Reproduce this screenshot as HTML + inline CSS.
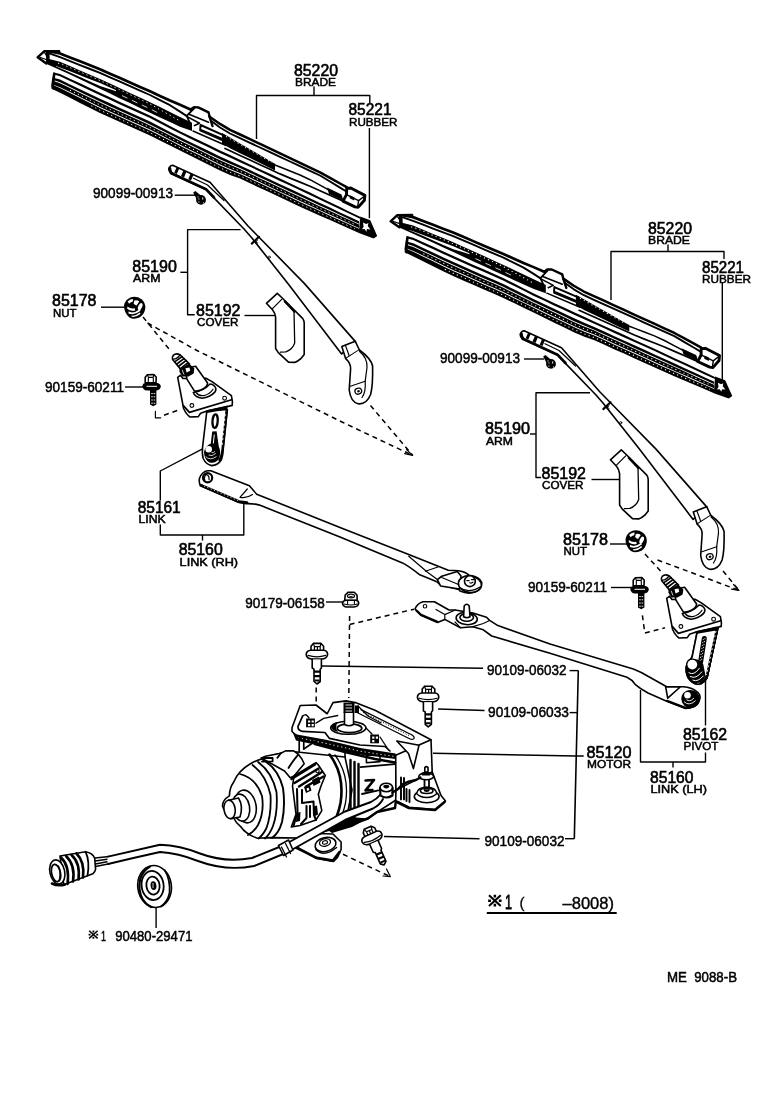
<!DOCTYPE html>
<html>
<head>
<meta charset="utf-8">
<title>Windshield Wiper Parts Diagram</title>
<style>
html,body{margin:0;padding:0;background:#fff;}
body{width:768px;height:1102px;overflow:hidden;font-family:"Liberation Sans",sans-serif;}
svg{display:block;position:absolute;left:0;top:0;filter:grayscale(1);}
text{font-family:"Liberation Sans",sans-serif;fill:#000;}
.n{font-size:16px;stroke:#000;stroke-width:.6px;}
.p{font-size:14.6px;stroke:#000;stroke-width:.5px;}
.s{font-size:11px;stroke:#000;stroke-width:.5px;}
.l{fill:none;stroke:#000;stroke-width:1.4;stroke-linecap:butt;stroke-linejoin:round;}
.d{fill:none;stroke:#000;stroke-width:1.5;stroke-dasharray:5 4;}
.o{fill:none;stroke:#000;stroke-width:1.6;stroke-linecap:round;stroke-linejoin:round;}
.w{fill:#fff;stroke:#000;stroke-width:1.6;stroke-linecap:round;stroke-linejoin:round;}
.k{fill:#000;stroke:#000;stroke-width:1;stroke-linejoin:round;}
.k0{fill:#000;stroke:none;}
.f{fill:none;stroke:#000;stroke-linecap:round;stroke-linejoin:round;}
.wd{fill:none;stroke:#fff;stroke-width:1;stroke-dasharray:1.2 3.2;}
</style>
</head>
<body>
<svg width="768" height="1102" viewBox="0 0 768 1102">
<rect x="0" y="0" width="768" height="1102" fill="#fff"/>

<!-- ===== TEXT LABELS ===== -->
<g id="labels" opacity="0.999">
<text class="n" x="294" y="75.5" textLength="44" lengthAdjust="spacingAndGlyphs">85220</text>
<text class="s" x="295" y="86" textLength="41" lengthAdjust="spacingAndGlyphs">BRADE</text>
<text class="n" x="348.5" y="115" textLength="43" lengthAdjust="spacingAndGlyphs">85221</text>
<text class="s" x="349" y="126" textLength="48.5" lengthAdjust="spacingAndGlyphs">RUBBER</text>

<text class="n" x="648" y="233.7" textLength="44" lengthAdjust="spacingAndGlyphs">85220</text>
<text class="s" x="648" y="244" textLength="42" lengthAdjust="spacingAndGlyphs">BRADE</text>
<text class="n" x="702" y="272.5" textLength="42" lengthAdjust="spacingAndGlyphs">85221</text>
<text class="s" x="702" y="282.7" textLength="49" lengthAdjust="spacingAndGlyphs">RUBBER</text>

<text class="p" x="93" y="198.3" textLength="80" lengthAdjust="spacingAndGlyphs">90099-00913</text>
<text class="n" x="132.3" y="271.8" textLength="44.5" lengthAdjust="spacingAndGlyphs">85190</text>
<text class="s" x="133" y="282" textLength="27.5" lengthAdjust="spacingAndGlyphs">ARM</text>
<text class="n" x="52" y="305.7" textLength="44.4" lengthAdjust="spacingAndGlyphs">85178</text>
<text class="s" x="53" y="316.6" textLength="23.5" lengthAdjust="spacingAndGlyphs">NUT</text>
<text class="n" x="196" y="315.7" textLength="44.5" lengthAdjust="spacingAndGlyphs">85192</text>
<text class="s" x="197" y="325.8" textLength="41.3" lengthAdjust="spacingAndGlyphs">COVER</text>
<text class="p" x="45" y="392.3" textLength="79" lengthAdjust="spacingAndGlyphs">90159-60211</text>
<text class="n" x="137.7" y="512.8" textLength="43" lengthAdjust="spacingAndGlyphs">85161</text>
<text class="s" x="138.5" y="523.2" textLength="27.3" lengthAdjust="spacingAndGlyphs">LINK</text>
<text class="n" x="178.7" y="554.7" textLength="44" lengthAdjust="spacingAndGlyphs">85160</text>
<text class="s" x="179.6" y="565.6" textLength="58.5" lengthAdjust="spacingAndGlyphs">LINK (RH)</text>

<text class="p" x="440" y="362.5" textLength="80" lengthAdjust="spacingAndGlyphs">90099-00913</text>
<text class="n" x="485" y="434" textLength="45" lengthAdjust="spacingAndGlyphs">85190</text>
<text class="s" x="486" y="445" textLength="27" lengthAdjust="spacingAndGlyphs">ARM</text>
<text class="n" x="541.5" y="479" textLength="44.5" lengthAdjust="spacingAndGlyphs">85192</text>
<text class="s" x="542" y="489" textLength="41.5" lengthAdjust="spacingAndGlyphs">COVER</text>
<text class="n" x="563" y="544.5" textLength="45" lengthAdjust="spacingAndGlyphs">85178</text>
<text class="s" x="563.5" y="555.3" textLength="23.5" lengthAdjust="spacingAndGlyphs">NUT</text>
<text class="p" x="528" y="591.8" textLength="79" lengthAdjust="spacingAndGlyphs">90159-60211</text>

<text class="p" x="245.2" y="607.6" textLength="79.7" lengthAdjust="spacingAndGlyphs">90179-06158</text>
<text class="p" x="487" y="675" textLength="79.5" lengthAdjust="spacingAndGlyphs">90109-06032</text>
<text class="p" x="488" y="717" textLength="81" lengthAdjust="spacingAndGlyphs">90109-06033</text>
<text class="p" x="484.5" y="845.5" textLength="80" lengthAdjust="spacingAndGlyphs">90109-06032</text>

<text class="n" x="683" y="739.5" textLength="44" lengthAdjust="spacingAndGlyphs">85162</text>
<text class="s" x="683.5" y="750" textLength="35" lengthAdjust="spacingAndGlyphs">PIVOT</text>
<text class="n" x="650" y="782.5" textLength="43.5" lengthAdjust="spacingAndGlyphs">85160</text>
<text class="s" x="650.5" y="793" textLength="56.5" lengthAdjust="spacingAndGlyphs">LINK (LH)</text>
<text class="n" x="586.5" y="757.5" textLength="45" lengthAdjust="spacingAndGlyphs">85120</text>
<text class="s" x="587" y="767.7" textLength="44" lengthAdjust="spacingAndGlyphs">MOTOR</text>

<text class="p" x="667" y="982" textLength="70" lengthAdjust="spacingAndGlyphs" xml:space="preserve">ME  9088-B</text>
<text class="p" x="115.200" y="940.500" textLength="77.300" lengthAdjust="spacingAndGlyphs">90480-29471</text>
<text class="p" x="101" y="940.500" textLength="5" lengthAdjust="spacingAndGlyphs">1</text>
<g id="kome" fill="none" stroke="#000" stroke-width="1.500"><path d="M89.200 930.800L97.600 938.400M97.600 930.800L89.200 938.400"/><path d="M93.400 930.400v2M93.400 936.800v2M88.600 934.600h2M96.200 934.600h2" stroke-width="1.800"/></g>
<use href="#kome" transform="translate(364.100,-407.800) scale(1.400)"/>
<text x="505" y="909.400" font-size="21" textLength="7" lengthAdjust="spacingAndGlyphs" style="stroke:#000;stroke-width:.8px">1</text>
<text x="519.500" y="908" font-size="15" style="stroke:#000;stroke-width:.3px">(</text>
<text x="562.500" y="908.800" font-size="17" textLength="51.500" lengthAdjust="spacingAndGlyphs" style="stroke:#000;stroke-width:.4px">–8008)</text>
</g>

<!-- ===== LEADER LINES ===== -->
<g id="leaders" class="l">
<!-- blade 1 bracket -->
<path d="M256.500 139V95.500H369.800V103"/><path d="M314 86.5V95.5"/><path d="M369.400 128V218.300"/>
<!-- blade 2 bracket -->
<path d="M611 300V251.5H724V259"/><path d="M668 244.5V251.5"/><path d="M722.3 283V380"/>
<!-- screw 1 -->
<path d="M174.7 195.2H195"/>
<!-- arm1 bracket -->
<path d="M240.6 229.6H187.6V314.7H194.7"/><path d="M180.4 272.3H187.6"/>
<!-- nut1 -->
<path d="M101 307.2H125"/>
<!-- cover1 -->
<path d="M244.5 315.5H275"/>
<!-- bolt1 -->
<path d="M125 387H143"/>
<!-- link 85161 / 85160 RH -->
<path d="M203 448.6L160.3 471V500.5"/><path d="M160.3 524.5V535H243.8V502.5"/><path d="M202.5 535V540.5"/>
<!-- screw 2 -->
<path d="M524 359H544"/>
<!-- arm2 bracket -->
<path d="M590 392.7H536V477.5H541"/><path d="M530 434H536"/>
<!-- cover2 -->
<path d="M591.5 479.5H622"/>
<!-- nut2 -->
<path d="M610 544H627"/>
<!-- bolt2 -->
<path d="M611 587.5H631"/>
<!-- nut 90179 -->
<path d="M326 602H343.5"/>
<!-- 90109-06032 top -->
<path d="M322 666L483 668.3"/><path d="M569.6 670.6H578.3"/>
<!-- 90109-06033 -->
<path d="M438 709L484.5 710.5"/><path d="M569.6 712.6H577.5"/>
<!-- motor -->
<path d="M433 753.3L576 756H583.7"/>
<!-- 90109-06032 bottom -->
<path d="M384 836.5L479.5 838.7"/><path d="M565 838.7H574.3"/>
<!-- pivot / link LH -->
<path d="M705.5 680V725.5"/><path d="M705.5 752.5V762H640.5V690"/><path d="M673 762V767.5"/>
<!-- grommet -->
<path d="M156.100 907.500V928"/>
<path d="M486.800 913H616.700" stroke-width="2.200"/>
</g>
<path d="M578.3 670.6L574.3 838.7" fill="none" stroke="#000" stroke-width="1.6"/>

<!-- ===== PARTS ===== -->
<defs>
<g id="blade">
<!--BLADE-->
<path class="k0" d="M54.0 72.5L60.0 74.0L70.0 78.7L80.0 83.3L90.0 88.0L100.0 92.7L110.0 97.3L120.0 101.9L130.0 106.4L140.0 111.0L150.0 115.6L160.0 120.8L170.0 126.0L180.0 131.2L190.0 136.0L200.0 140.8L210.0 145.6L220.0 150.4L230.0 155.1L240.0 159.8L250.0 164.5L260.0 169.2L270.0 173.8L280.0 178.5L290.0 183.2L300.0 187.9L310.0 192.6L320.0 197.5L330.0 202.3L340.0 207.1L350.0 212.0L360.0 216.8L360.0 218.8L350.0 214.1L340.0 209.3L330.0 204.5L320.0 199.7L310.0 194.9L300.0 190.2L290.0 185.5L280.0 180.9L270.0 176.2L260.0 171.5L250.0 166.8L240.0 162.2L230.0 157.6L220.0 152.9L210.0 148.1L200.0 143.3L190.0 138.4L180.0 133.6L170.0 128.4L160.0 123.3L150.0 118.1L140.0 113.5L130.0 108.9L120.0 104.4L110.0 99.8L100.0 95.2L90.0 90.5L80.0 85.8L70.0 81.1L60.0 76.3L54.0 74.6Z"/>
<path class="k0" d="M52.5 77.4L60.0 79.6L70.0 84.4L80.0 89.2L90.0 94.0L100.0 98.8L110.0 103.3L120.0 107.9L130.0 112.5L140.0 117.0L150.0 121.6L160.0 126.7L170.0 131.9L180.0 137.0L190.0 141.9L200.0 146.7L210.0 151.6L220.0 156.5L230.0 161.1L240.0 165.4L250.0 170.1L260.0 174.8L270.0 179.5L280.0 184.2L290.0 188.8L300.0 193.5L310.0 198.2L320.0 202.9L330.0 207.6L340.0 212.4L350.0 217.1L359.0 221.3L359.0 223.7L350.0 219.5L340.0 214.8L330.0 210.1L320.0 205.5L310.0 200.8L300.0 196.1L290.0 191.5L280.0 186.8L270.0 182.1L260.0 177.4L250.0 172.8L240.0 168.1L230.0 163.8L220.0 159.3L210.0 154.4L200.0 149.5L190.0 144.6L180.0 139.7L170.0 134.6L160.0 129.5L150.0 124.4L140.0 119.8L130.0 115.3L120.0 110.7L110.0 106.2L100.0 101.6L90.0 96.8L80.0 92.0L70.0 87.1L60.0 82.3L52.5 79.8Z"/>
<path class="k0" d="M52.0 80.6L60.0 83.2L70.0 88.1L80.0 92.9L90.0 97.8L100.0 102.6L110.0 107.2L120.0 111.7L130.0 116.3L140.0 120.8L150.0 125.4L160.0 130.5L170.0 135.6L180.0 140.7L190.0 145.6L200.0 150.5L210.0 155.4L220.0 160.3L230.0 164.8L240.0 169.0L250.0 173.7L260.0 178.4L270.0 183.0L280.0 187.7L290.0 192.4L300.0 197.1L310.0 201.7L320.0 206.4L330.0 211.0L340.0 215.7L350.0 220.3L359.0 224.5L359.0 228.0L350.0 223.9L340.0 219.3L330.0 214.8L320.0 210.2L310.0 205.6L300.0 201.0L290.0 196.3L280.0 191.7L270.0 187.0L260.0 182.3L250.0 177.6L240.0 173.0L230.0 169.0L220.0 164.5L210.0 159.6L200.0 154.6L190.0 149.7L180.0 144.7L170.0 139.7L160.0 134.6L150.0 129.5L140.0 125.0L130.0 120.5L120.0 116.0L110.0 111.4L100.0 106.9L90.0 102.0L80.0 97.0L70.0 92.1L60.0 87.2L52.0 84.2Z"/>
<path class="k0" d="M52.8 85.0L60.0 88.1L70.0 93.1L80.0 98.0L90.0 103.0L100.0 107.9L110.0 112.4L120.0 117.0L130.0 121.5L140.0 126.0L150.0 130.5L160.0 135.6L170.0 140.6L180.0 145.7L190.0 150.7L200.0 155.6L210.0 160.6L220.0 165.5L230.0 170.0L240.0 173.9L250.0 178.6L260.0 183.3L270.0 187.9L280.0 192.6L290.0 197.3L300.0 202.0L310.0 206.6L320.0 211.1L330.0 215.7L340.0 220.2L350.0 224.7L359.0 228.8L359.0 233.0L350.0 229.0L340.0 224.6L330.0 220.1L320.0 215.7L310.0 211.2L300.0 206.7L290.0 202.0L280.0 197.3L270.0 192.6L260.0 188.0L250.0 183.3L240.0 178.6L230.0 174.9L220.0 170.6L210.0 165.6L200.0 160.6L190.0 155.6L180.0 150.5L170.0 145.5L160.0 140.5L150.0 135.5L140.0 131.0L130.0 126.5L120.0 122.0L110.0 117.5L100.0 113.0L90.0 108.0L80.0 102.9L70.0 97.8L60.0 92.8L52.8 89.2Z"/>
<path class="k0" d="M53.2 72.2L55.6 73L53.6 90L51.4 88.6L51.2 85Z"/>
<path class="wd" d="M70.0 90.2L80.0 95.1L90.0 100.0L100.0 104.9L110.0 109.4L120.0 113.9L130.0 118.5L140.0 123.0L150.0 127.5L160.0 132.6L170.0 137.7L180.0 142.8L190.0 147.7L200.0 152.7L210.0 157.6L220.0 162.5L230.0 167.0L240.0 171.1L250.0 175.8L260.0 180.4L270.0 185.1L280.0 189.8L290.0 194.5L300.0 199.1L310.0 203.8L320.0 208.4L330.0 213.0L340.0 217.6L350.0 222.2L355.0 224.5"/>
<path class="wd" d="M90.0 105.2L100.0 110.2L110.0 114.7L120.0 119.2L130.0 123.7L140.0 128.2L150.0 132.7L160.0 137.8L170.0 142.8L180.0 147.8L190.0 152.8L200.0 157.8L210.0 162.8L220.0 167.8L230.0 172.2L240.0 176.0L250.0 180.6L260.0 185.3L270.0 190.0L280.0 194.7L290.0 199.4L300.0 204.0L310.0 208.6L320.0 213.1L330.0 217.6L340.0 222.1L350.0 226.6L355.0 228.9" stroke-dashoffset="3"/>
<path class="k0" d="M360.2 216.4L370.3 220.2L377.2 236L373.7 238.4L358.8 233Z"/>
<path d="M363 222.5l3.2 1.6l2.2-1l-.6 3l2.6 3.4l-3.4-.4l-.6 2.6l-1.8-2.6l-2.6.2l1.6-2.6z" fill="#fff"/>
<path class="f" stroke-width="2.7" d="M50.0 51.4L60.0 53.4L70.0 57.4L80.0 61.3L90.0 65.3L100.0 69.3L110.0 73.7L120.0 78.1L130.0 82.5L140.0 86.9L150.0 91.3L160.0 95.9L170.0 100.5L180.0 104.8L190.0 109.2L191.0 109.6"/>
<path class="f" stroke-width="1.9" d="M50.0 53.6L60.0 57.2L70.0 61.1L80.0 65.1L90.0 69.0L100.0 72.9L110.0 77.3L120.0 81.7L130.0 86.2L140.0 90.6L150.0 95.0L160.0 100.1L170.0 105.2L180.0 111.6L186.5 115.9"/>
<path class="f" stroke-width="2.4" d="M59.2 51.2H44.4L37.6 57.3L46.3 63.4"/>
<path class="f" stroke-width="1.2" d="M40.5 57.5L46 59.5M44.5 52.5L46 55"/>
<path class="k0" d="M45.8 51H49.6V63H46.2Z"/>
<path class="k0" d="M49 50.4H59.6L60.6 53L50 52.6Z"/>
<path class="k0" d="M47.0 58.4L50.0 59.2L60.0 61.8L70.0 66.1L80.0 70.4L90.0 74.7L100.0 79.0L110.0 83.6L120.0 88.3L130.0 92.9L140.0 97.6L150.0 102.2L160.0 107.1L170.0 112.1L180.0 117.0L190.0 121.8L192.0 122.8L192.0 131.0L190.0 130.3L180.0 126.8L170.0 122.1L160.0 117.4L150.0 112.7L140.0 107.9L130.0 103.1L120.0 98.4L110.0 93.6L100.0 88.8L90.0 84.1L80.0 79.3L70.0 74.6L60.0 69.9L50.0 65.5L46.0 63.7Z"/>
<path d="M56.0 66.1L60.0 67.4L70.0 71.3L80.0 75.2L90.0 79.2L100.0 83.1L110.0 87.5L116.0 90.2L116.0 91.2L110.0 89.2L100.0 85.9L90.0 81.5L80.0 77.0L70.0 72.5L60.0 68.1L56.0 66.5Z" fill="#fff"/>
<path class="wd" d="M58.0 63.3L60.0 63.3L70.0 67.6L80.0 71.9L90.0 76.2L100.0 80.5L110.0 85.2L120.0 89.9L130.0 94.6L140.0 99.3L150.0 104.0L160.0 109.7L170.0 115.3L180.0 121.0"/>
<path d="M122.0 95.6L130.0 99.4L140.0 104.1L150.0 108.8L160.0 113.9" fill="none" stroke="#fff" stroke-width=".8" stroke-dasharray="6 5"/>
<path class="f" stroke-width="2.4" d="M190.5 109.5L194 107.2L198.2 107.4L208.6 112.4L209.8 117.5L212.5 126"/>
<path class="f" stroke-width="1.8" d="M194 108.5L186.7 115.8L190.4 124.2"/>
<path class="f" stroke-width="1.6" d="M189 114.2L208.5 122.2"/>
<path class="f" stroke-width="1.6" d="M186.7 116.4L199.5 123.3L194.5 125.6"/>
<path class="f" stroke-width="2" d="M200.6 125L224.9 135.8L222.3 139L200.2 129.6Z"/>
<path class="f" stroke-width="1.5" d="M193 131L226 145.5"/>
<path class="f" stroke-width="1.5" d="M200 130.6L222 140.2"/>
<path class="f" stroke-width="2.5" d="M209.5 116.6L210.0 116.9L220.0 123.9L230.0 129.8L240.0 134.5L250.0 139.2L260.0 143.9L270.0 148.7L280.0 153.4L290.0 158.1L300.0 162.8L310.0 167.6L320.0 172.3L330.0 177.9L340.0 183.5L346.7 187.2"/>
<path class="f" stroke-width="1.9" d="M211.3 121.0L220.0 127.5L230.0 133.5L240.0 138.2L250.0 142.9L260.0 147.5L270.0 152.2L280.0 156.8L290.0 161.5L300.0 166.2L310.0 170.8L320.0 175.5L330.0 181.5L340.0 187.6L346.0 191.2"/>
<path class="k0" d="M222.0 133.0L230.0 137.5L240.0 143.4L250.0 149.2L260.0 155.0L270.0 160.9L275.0 163.8L275.0 170.4L270.0 167.9L260.0 163.0L250.0 158.1L240.0 153.2L230.0 148.3L222.0 143.5Z"/>
<path class="wd" d="M226.0 136.4L272.0 162.8"/>
<path class="f" stroke-width="1.5" d="M275.0 165.0L280.0 167.0L290.0 171.0L300.0 175.0L310.0 179.7L320.0 185.2L330.0 190.6L340.0 195.7L341.5 196.5"/>
<path class="f" stroke-width="1.7" d="M225.0 148.5L230.0 150.8L240.0 155.4L250.0 160.0L260.0 164.7L270.0 169.3L280.0 173.9L290.0 178.1L300.0 182.1L310.0 186.2L320.0 190.7L330.0 195.2L340.0 199.7L343.0 201.0"/>
<path class="k0" d="M327 187.6L341.5 194.6L343.5 201L329 194Z"/>
<path class="f" stroke-width="2.9" d="M346.7 188.4L350.8 188L364.9 195.4L364.4 200.3L358.1 207.4L355 206.9L343 201.1L346.5 194.6Z"/>
<path class="f" stroke-width="1.4" d="M346.5 194.6L358.6 200.6L364.6 196"/><path class="f" stroke-width="1.4" d="M358.6 200.6L357.6 207"/>
<path class="k0" d="M350 195.2l4.5 2.2l-.3 3.2l-4.6-2.3z"/>
<!--/BLADE-->
</g>
<g id="arm">
<!--ARM-->
<!-- arm outline -->
<path class="w" stroke-width="1.8" d="M173.2 165.4L210 182.3L248 226L259.5 237.7L304.5 283.6L355.2 341.4L341.6 353.9L287.9 283.6L251.7 237.7L244.5 229.5L206 189.6L170.8 173.4Q167.4 169.6 169.6 167Q171 165 173.2 165.4Z"/>
<!-- thick lower edge of first segment -->
<path class="f" stroke-width="2.6" d="M171 173L206 189.2L214 197.5"/>
<path class="f" stroke-width="1.2" d="M193.5 178.2L207.5 185L224 200.5"/>
<!-- tip cross bars (dark) -->
<path class="k0" d="M176.6 167.2l2.6 1.2l-2.4 5.6l-2.6-1.2zM183.4 170.4l3 1.4l-2.4 5.6l-3-1.4zM190.6 173.6l2.8 1.3l-2.4 5.6l-2.8-1.3z"/>
<path class="f" stroke-width="2.4" d="M170 168.2Q170.4 172 172 173.4"/>
<!-- joint -->
<path class="f" stroke-width="2.16" d="M251.8 243.6L259 236.8"/>
<path class="f" stroke-width="1.0" d="M255.8 240.6v2.6m0-1.4l1.6-1.4m-1.6 1.4l1.8 1.2"/>
<circle cx="269.3" cy="257.2" r="1.1" class="f" stroke-width="0.8"/>
<!-- collar -->
<path class="w" stroke-width="2.2" d="M341.8 346.4L355.2 341.2L359.4 350L345.6 358.6Z"/>
<path class="f" stroke-width="1.2" d="M345.4 345.4L349.2 355.8"/>
<!-- hook -->
<path class="w" stroke-width="1.8" d="M346 358.8Q351 363.5 350.6 369L349.2 390Q350.6 401.6 358 403.8Q366.4 404.8 370.6 394.5Q373 386 372.6 366Q371 358.5 359.4 350"/>
<path class="f" stroke-width="1.2" d="M359.6 351.5Q367.6 358 367 367.5L365.2 381.2L350.4 386.2"/>
<path class="f" stroke-width="1.2" d="M365.2 381.2Q366 392 362 397.5"/>
<ellipse cx="358.3" cy="391.2" rx="3.4" ry="2.9" class="f" stroke-width="1.3" transform="rotate(-20 358.3 391.2)"/>
<ellipse cx="358.5" cy="391.3" rx="1.4" ry="1.1" class="k0" transform="rotate(-20 358.3 391.2)"/>

<!--/ARM-->
</g>
<!--SMALL1-->
<!-- NUT shape centred at (134.5,307.5) -->
<g id="nut">
<path class="k0" d="M124 305.500Q125 299.500 131 297.200Q137 296 141.500 299.200Q145.600 302.500 145.300 308.200Q144.600 314 140 317.200Q134 320 129.400 317.400Q124 313 124 305.500Z"/>
<path d="M127.600 301.600q2.600-3 5.600-2.400l-.6 2.600q-2.400.4-3.400 2z" fill="#fff"/>
<path d="M134.400 300.400q3-.6 4.800 1l-2.600 4.200q-1.800-.6-3-2.200z" fill="#fff"/>
<ellipse cx="140.200" cy="306.600" rx="1.900" ry="3.700" fill="#fff" transform="rotate(25 140.200 306.600)"/>
<path d="M127.400 306.400q3.400 3 7.400 1.800l.4 2.200q-4.400 1.400-8-1.600z" fill="#fff"/>
<path d="M128.600 311.600q5 2.400 11-2.400l1 1.600q-6 5-12.200 2.600z" fill="#fff"/>
<path d="M131.600 315.600q4 .6 8.200-3l.8 1.200q-4.400 3.800-9 3z" fill="#fff"/>
</g>
<!-- BOLT small: head top at (150.6,374.6) -->
<g id="sbolt">
<path class="w" stroke-width="1.92" d="M145.200 377.200L147.400 374.800L153.800 374.600L156.200 377L156 382.600L145.200 382.800Z"/>
<path class="f" stroke-width="1.1" d="M148.400 377.400L153.200 377.200L153.400 382.400M148.400 377.400L148.200 382.600M148.400 377.400L147.400 374.800M153.200 377.200L153.800 374.600"/>
<path class="k0" d="M142.400 386.400Q142.400 383.200 146 382.800H156.400Q160.600 383.400 160.800 386.400Q160.400 389.600 156.400 390.600H147Q142.800 389.800 142.400 386.400Z"/>
<path d="M146.500 386.300H157" stroke="#fff" stroke-width="1.0" fill="none"/>
<path class="k0" d="M150 390H156.400V404.400L153.200 406.200L150 404.400Z"/>
<path d="M151.200 393.600h4M151.200 396.800h4M151.200 400h4M151.200 403.200h4" stroke="#fff" stroke-width="0.9" stroke-dasharray="1.600 .8" fill="none"/>
</g>

<!--/SMALL1-->
<!--BOLTS-->
<g id="bigbolt">
<path class="w" stroke-width="2.04" d="M311 651.500L311 646.200L313.400 643.400L320.800 643.400L323.600 646.200L323.600 651.500Z"/>
<path class="f" stroke-width="1.2" d="M314.400 646.600L320.200 646.600L320.200 651.500M314.400 646.600L314.400 651.500M314.400 646.600L313.400 643.400M320.200 646.600L320.800 643.400M317.400 647V651"/>
<path class="w" stroke-width="2.04" d="M306.200 654.600Q306.200 650.600 311 650.200L323.600 650.200Q327.600 650.600 327.600 654.600Q327 658.200 322.600 659L311.400 659Q306.600 658.200 306.200 654.600Z"/>
<path class="f" stroke-width="1.2" d="M308 655.400Q316.800 658.200 325.800 655.400"/>
<path class="w" stroke-width="2.04" d="M312.200 659.400L312.200 668L314 669.200L314 681.500L317 684L320.200 681.500L320.200 669.200L321.400 668L321.400 659.400"/>
<path class="k0" d="M314 670.500h6.200v2.200h-6.200zM314 675h6.200v2.200h-6.200zM314.600 679.500h5v2h-5z"/>
</g>
<g id="hexnut">
<path class="w" stroke-width="2.04" d="M344.700 600.500L345.200 595L348.200 592.200L354.200 592.200L357 595L357.200 600.500Z"/>
<ellipse cx="351" cy="596" rx="3.600" ry="1.900" class="f" stroke-width="1.2"/>
<path class="f" stroke-width="1.0" d="M349.600 596.400q1.400 1 2.800 0"/>
<path class="w" stroke-width="2.04" d="M342.500 603.600Q342.600 600.600 346 600.200L356 600.200Q358.800 600.600 358.700 603.600Q358 606.600 354 607L347 607Q343 606.600 342.500 603.600Z"/>
<path class="f" stroke-width="1.1" d="M347.600 600.600V603.600M354.400 600.600V603.600M344 604Q351 606 357.400 604"/>
</g>

<!--/BOLTS-->
<g id="cover">
<!--COVER-->
<path class="w" stroke-width="2" d="M266.400 303.300L277.300 293.400L281.700 297.500L302.800 318.600Q304.200 320.600 304.200 323.300L304.200 354.600L300.800 358.700Q298 361.400 294.700 362.400L288.500 362.100L278.300 352.600L275.600 348.500L275.600 317.200Q275.200 313 272.500 309.700Z"/>
<path class="f" stroke-width="1.200" d="M272.500 308.600L281.700 299.300"/>
<path class="f" stroke-width="1.300" d="M284.400 301.200L294 311L294.700 343Q292.500 349.500 285.800 351.900L280.400 352.200"/>
<path class="f" stroke-width="2.400" d="M285 301.500L294.400 311.500"/>

<!--/COVER-->
</g>
</defs>
<g id="parts">
<!--CONN-->
<!-- connector -->
<g id="connector">
<path class="w" stroke-width="2" d="M60 856L85.600 851.800Q92.500 853 94.700 858.200L95.600 869.200Q95 872.500 92.900 873.700L63.700 884.700Z"/>
<path class="f" stroke-width="1.800" d="M85.600 851.800Q90 861 87.500 875.500"/>
<path class="f" stroke-width="1.500" d="M95 858L109.300 856.400M95.600 866.500L109.300 863.700M95.300 861L107 859.200M95.500 864L107 861.800"/>
<ellipse cx="57.300" cy="871.900" rx="7.400" ry="12.200" class="w" stroke-width="2.300" transform="rotate(-12 57.300 871.900)"/>
<path class="f" stroke-width="2.600" d="M61 857.500Q70 866 67.500 884M66 856Q75.500 865 73 881.500M71.500 855Q80.500 863 78.500 879.500M76.500 853.500Q85 862 83 877.500"/>
<ellipse cx="56" cy="873" rx="4.400" ry="8.800" class="f" stroke-width="1.800" transform="rotate(-12 56 873)"/>
<path class="f" stroke-width="1.300" d="M58.500 866Q61.500 873 59 881"/>
<path class="f" stroke-width="2.600" d="M52 883.500Q58 886.500 65 884.500"/>
</g>
<!-- grommet -->
<g id="grommet">
<ellipse cx="154.600" cy="886.500" rx="16.800" ry="21" class="w" stroke-width="2.28" transform="rotate(-8 154.600 886.500)"/>
<path class="f" stroke-width="2.16" d="M150 866.500Q138.500 873 139.500 889Q141 902 151 907"/>
<ellipse cx="152.600" cy="885.500" rx="11" ry="14.600" class="f" stroke-width="1.8" transform="rotate(-8 152.600 885.500)"/>
<ellipse cx="153" cy="885.600" rx="6.600" ry="9" class="f" stroke-width="1.8" transform="rotate(-8 153 885.600)"/>
<ellipse cx="153.500" cy="885.600" rx="2.900" ry="4.400" class="k0" transform="rotate(-8 153.500 885.600)"/>
<path d="M153 883v5" stroke="#fff" stroke-width="0.8" fill="none"/>
<path class="f" stroke-width="1.68" d="M165 870.500Q170.500 880 169.500 893Q167.500 902 161 906.500"/>
</g>

<!--/CONN-->
<g id="motor">
<!--MOTOR-->
<!-- ===== MOTOR 85120 ===== -->
<!-- cable from connector to motor -->
<!-- rear foot plate with rubber mount -->
<path class="w" stroke-width="2.04" d="M294.600 845.800L305 838L318 833.500L333 834L341.100 842L341.100 849.500L337.500 857.500L333.500 861.500L316.600 858.500Z"/>
<path class="f" stroke-width="2.6" d="M296 847.500L316.600 857.800L333 860.600L339.500 852"/>
<ellipse cx="325.500" cy="844.500" rx="10.600" ry="7" class="w" stroke-width="2.04" transform="rotate(-14 325.500 844.500)"/>
<path class="f" stroke-width="1.3" d="M315.800 849.500Q324 858 336.600 847.500"/>
<ellipse cx="325" cy="842.500" rx="5.600" ry="3.700" class="f" stroke-width="1.3" transform="rotate(-14 325 842.500)"/>
<ellipse cx="325" cy="842.400" rx="2.600" ry="1.700" class="f" stroke-width="1.1" transform="rotate(-14 325 842.400)"/>
<!-- main gear housing block (right body) -->
<path class="w" stroke-width="2.04" d="M345 752L396 756L396 800L368 818L345 826Z"/>
<!-- motor body cylinder -->
<path class="w" stroke-width="2.04" d="M262.400 758.800Q272 754.500 283 752.700L294.600 751.800L345 757L352 790L345 826L300 838L270.900 837.600L257.300 838.200Q246 834.500 240.400 826.300Q236 823 233 817Q224 812 222.500 806Q222.500 800 229.400 795.900Q229.500 788 233.600 782.300Q238 771 250 764Q256 760.500 262.400 758.800Z"/>
<!-- end rings -->
<path class="f" stroke-width="1.92" d="M262.400 759.500Q278 768 283 788Q285.500 806 282 822Q279 833 272 838"/>
<path class="f" stroke-width="1.8" d="M258 762Q272 772 276.500 792Q278 812 273 826Q270 834 265 838.500"/>
<path class="f" stroke-width="1.8" d="M252.500 765Q266 775 270.500 795Q271.500 814 266.500 828Q263 835 258.500 838.500"/>
<path class="f" stroke-width="1.8" d="M240 774Q256 778 262 796Q264.500 812 258 825Q254 832 248 835"/>
<ellipse cx="245.500" cy="806.500" rx="10.600" ry="16.500" class="w" stroke-width="1.92" transform="rotate(-10 245.500 806.500)"/>
<ellipse cx="241" cy="807.600" rx="8.600" ry="13.600" class="w" stroke-width="1.92" transform="rotate(-10 241 807.600)"/>
<path class="w" stroke-width="1.8" d="M228.500 800.200L238.500 798Q243.500 806 240 817L231 818.600Z"/>
<ellipse cx="229.600" cy="809.400" rx="5.600" ry="9.300" class="w" stroke-width="2.28" transform="rotate(-8 229.600 809.400)"/>
<!-- strap across body -->
<path class="w" stroke-width="2.16" d="M261.400 758L265.500 756.200L280.800 753.200L285.500 750.900L293.700 750.900L298.400 754.400L301.900 759L304.200 763.750L294 776L290.200 777.800L284.500 771Z"/>
<path class="f" stroke-width="1.8" d="M261.400 758L272.600 757.800L272.600 761.400L262 761.600M277.300 757.900L280.800 753.200"/>
<path class="f" stroke-width="1.8" d="M298.400 754.400Q292 762 288.500 768"/>
<!-- brush holder block -->
<path class="w" stroke-width="2.16" d="M292.500 786L294 776L316 762.600L318.300 765L325.300 775.500L321 786L318.300 794.200L321.800 810.700L316 820L300 825.500L291.300 827L296 814.200Z"/>
<path class="f" stroke-width="2.4" d="M291.500 779L315 764.500M294.500 783L318.500 768.500M299 786.500L322 772M306 786.500L323.500 776.500"/>
<path class="f" stroke-width="2.04" d="M297 789L297.500 812L293.500 826M302 790L302 803L313.500 801.500L314 815L316 820M306.500 806L306.500 818L301 824M310 806L310 817"/>
<path class="k0" d="M304 787l5.500-3l2 6.500l-5.500 2.500zM312 780l7-3.500l1.500 6l-7 3.500zM296.500 813l4-1l-.5 9l-4 1zM313 806.500l4-1l1 9l-4 2z"/>
<path d="M306.500 788.500l2-1l.8 2.500l-2 1z" fill="#fff"/>
<!-- flange ring between motor and gearbox -->
<path class="f" stroke-width="2.6" d="M329.500 754.500Q345 775 340.500 803Q338 816 331.500 827.500"/>
<path class="f" stroke-width="1.3" d="M335 755Q350 776 345.500 803Q343 815 337 826"/>
<path class="f" stroke-width="2.4" d="M350.500 760V821M354.500 762V818M358.500 764V812"/>
<circle cx="317.500" cy="771" r="1.700" class="f" stroke-width="1.1"/>
<!-- gearbox details -->
<path class="f" stroke-width="1.8" d="M360.500 767.200L394.900 764.200M362 794L378.400 790.400"/>
<path class="f" stroke-width="2.6" d="M365.500 780.500L374 780L365.500 790.400L372.400 790"/>
<path class="w" stroke-width="1.92" d="M366.400 755.200L366.400 762.700L380 761.600L380 755.200Z"/>
<path class="f" stroke-width="2.4" d="M396.400 756L396.400 800.500"/>
<path d="M396.400 760V798" stroke="#fff" stroke-width="0.7" stroke-dasharray="3 4" fill="none"/>
<ellipse cx="386.300" cy="787.500" rx="6.300" ry="4.200" class="w" stroke-width="2.04"/>
<ellipse cx="386.300" cy="786.600" rx="3" ry="1.800" class="k0"/>
<path class="f" stroke-width="2.16" d="M380 788L380.500 795.500Q386 799.500 392.500 795.500L392.600 788"/>
<!-- lower link/crank arm under gearbox -->
<path class="f" stroke-width="2.4" d="M345 826.500L368 818.500L377 812L395 808L396 800"/>
<path class="k0" d="M322 826Q334 815 350 817L368 818.500L352 827L332 833Z"/>
<path d="M330 827.500L340 822" stroke="#fff" stroke-width="1.3" fill="none"/>
<!-- cable -->
<path d="M108 856.600Q135 850.500 160 844.800Q180 845.500 200 853.500Q225 863 252 858L283 845.500L345 811.500L371 802L379.500 796L382 800L373 808L345 820L287 852.500L254 866Q226 871.500 198 861Q178 853 160 852.500Q135 857.500 108 864Z" fill="#fff"/>
<path class="f" stroke-width="1.92" d="M108 856.600Q135 850.500 160 844.800Q180 845.500 200 853.500Q225 863 252 858L283 845.500L345 811.500L371 802Q377 799 380 795"/>
<path class="f" stroke-width="1.92" d="M108 864Q135 857.500 160 852Q178 853 198 861Q226 871.500 254 866L287 852.500L345 820L373 808.500Q380 805 383 799"/>
<!-- cable clamp -->
<path class="w" stroke-width="2.16" d="M278.500 845.500L288.500 840L293 850L283.500 855.500Z"/>
<path class="f" stroke-width="1.300" d="M281.500 847L286.500 857M285.500 843.500L290.500 853.500"/>
<!-- top bracket plate -->
<path class="w" stroke-width="2.16" d="M300.200 705.500L316 705L327.200 713.750L333 702.600L346 700.900L355.300 702.600L375 710.200L431 739.800L432.200 771.900L396 800L395.700 755.300L360.250 749.800L324.800 741L296.700 736L292 731.500L292 727.800Z"/>
<!-- plate front (thickness, dark) -->
<path class="k0" d="M292.500 732L297 734.500L326 739.800L360.250 748L395.700 753.500L395.700 759L360 754.500L326 747L296 740.500Z"/>
<path class="f" stroke-width="2.600" d="M315 744L345 752L375 759L395 762.500"/>
<path d="M298 737.600L326 743.400L360 751.200L394 756.400" stroke="#fff" stroke-width="0.8" stroke-dasharray="1.400 2.600" fill="none"/>
<path class="f" stroke-width="1.68" d="M395.700 755.300L431 739.800"/>
<!-- right face triangle mark -->
<path class="w" stroke-width="1.8" d="M396.800 741L419 745.300L413.400 768.600L408.500 753.500Z"/>
<!-- slot on plate -->
<path class="f" stroke-width="1.3" d="M361 709.600L412 735Q415.500 737.500 413.500 739Q411.500 740 408 738L358 713"/>
<path d="M363 712.400L409 735.500" stroke="#000" stroke-width="0.9" stroke-dasharray="1.200 1.600" fill="none"/>
<!-- inner rib -->
<path class="f" stroke-width="1.68" d="M302.600 716.100L297.900 726.600Q298 731 302.600 731.300L324.900 732.500L329.500 738.400L360 745L385 746.500L390 751"/>
<path class="f" stroke-width="1.3" d="M302.600 716.100Q305 713.500 307.500 716L309 718M316 723.100L323.700 718.400L337.750 715.500M366 728L372 734M380 737L388.500 750"/>
<path class="f" stroke-width="1.3" d="M358 706L368 716L381 723"/>
<!-- square nuts -->
<path class="k0" d="M306.100 718.500h8.800v8.800h-8.800z"/><path d="M308 720.400h2.200v2.200h-2.200zM311.600 720.400h2.200v2.200h-2.200zM308 724h2.200v2.200h-2.200zM311.600 724h2.200v2.200h-2.200z" fill="#fff"/>
<path class="k0" d="M370.200 734.500h8.800v8.800h-8.800z"/><path d="M372.200 736.500h2.200v2.200h-2.200zM375.800 736.500h2.200v2.200h-2.200zM372.200 740h2.200v2.200h-2.200z" fill="#fff"/>
<!-- boss + stud -->
<ellipse cx="348.300" cy="727.800" rx="17.600" ry="6.500" class="w" stroke-width="2.04"/>
<path class="k0" d="M331 727Q332 723.500 337 722L336 728.500L338 732Q332.500 731 331 727Z"/>
<ellipse cx="349.500" cy="728.200" rx="12.300" ry="4.400" class="f" stroke-width="1.68"/>
<path class="w" stroke-width="1.92" d="M344.500 724.500L344.500 712L353.500 712L353.500 724.500Q349 727 344.500 724.500Z"/>
<path class="k0" d="M343.500 702.500h11v10.500h-11z"/><path d="M345.500 705h6.500M345.500 708h6.500M345.500 711h6.500" stroke="#fff" stroke-width="0.9" fill="none"/>
<path class="k0" d="M355 705.500h4v7.500h-4z"/>
<!-- legs -->
<path class="f" stroke-width="1.68" d="M299.200 737V751.500M303.750 738V749"/>
<path class="f" stroke-width="1.68" d="M303.750 749L315 741.500"/>
<!-- front right foot with mount -->
<path class="w" stroke-width="2.04" d="M395.700 800.700L409 807.300L435.500 809.500L445.500 801L441 795.500L432.200 771.900L396 790Z"/>
<path class="f" stroke-width="2.6" d="M397 802L409 808L435 810L444.500 802"/>
<ellipse cx="426.700" cy="796.500" rx="12.400" ry="6.200" class="w" stroke-width="2.04"/>
<path class="w" stroke-width="1.8" d="M416.600 793.500Q417.500 787.500 426.700 787Q436 787.500 436.800 793.500Q433 797.500 426.700 797.500Q420 797.500 416.600 793.500Z"/>
<ellipse cx="426.700" cy="790.800" rx="6.300" ry="2.700" class="w" stroke-width="1.68"/>
<ellipse cx="426.700" cy="790.600" rx="3" ry="1.300" class="k0"/>
<path class="f" stroke-width="1.8" d="M424.500 789V779M429 789V779"/>
<ellipse cx="426.200" cy="776.400" rx="7.400" ry="3.400" class="w" stroke-width="2.04"/>
<path class="k0" d="M421 773Q426 770.500 431 773L430 775.500H422Z"/>
<path class="w" stroke-width="1.3" d="M424.800 772L424.800 767.500Q426.400 765.800 428 767.500L428 772Z"/>
<!-- wire to foot -->
<path class="f" stroke-width="2.4" d="M392.600 792.500Q398 790 402.400 784.400Q408 781 415.900 780L420.400 777.500"/>
<path class="f" stroke-width="1.92" d="M401 777.500V799.400M404 778V799.400M406.500 789V801M409.500 790V802"/>

<!--/MOTOR-->
</g>
<!--MISC-->
<g id="screw">
<circle cx="201" cy="199.900" r="4.900" class="k0"/>
<path class="k0" d="M193.200 192.600L195.400 191L202 196.500L197.500 201Z"/>
<path d="M197.500 196.500h1v1h-1zM198.400 198.600h1v1h-1zM198.400 201.500h1v1h-1zM202.200 197.400h1v2h-1zM203 202.600h1v1h-1z" fill="#fff"/>
</g>
<use href="#screw" transform="translate(350,164)"/>
<!-- dashed guide lines -->
<g class="d" stroke-dasharray="6 5">
<path d="M143 317L169 349"/>
<path d="M147.500 323L197 350.500L343 422.500L412.700 455.400"/>
<path d="M370.500 405.500L412.700 455.400"/>
<path d="M645 554L661 571.500"/>
<path d="M657.500 560L739 590.300"/>
<path d="M723 571L739 590.300"/>
</g>
<path class="f" stroke-width="1.200" d="M406.500 449.600L412.700 455.400L404.600 453.600"/>
<path class="f" stroke-width="1.200" d="M733.500 584.500L739 590.300L731.500 589.200"/>
<path class="f" stroke-width="1.200" d="M155.400 411.400V417.800H160.700"/>
<path class="d" stroke-dasharray="4 3.500" d="M164 415.200L178 410.200"/>
<path class="d" stroke-dasharray="7 3.500" d="M642.400 615.300L644.800 633L665 627.800"/>
<!-- hexnut vertical -->
<path class="d" stroke-width="1.400" stroke-dasharray="8 3" d="M349.600 616L348.800 698"/>
<path class="d" stroke-dasharray="6 5" d="M349.600 624.500L414 609.200"/>
<path class="d" stroke-width="1.400" stroke-dasharray="7 3" d="M316.200 687.500V703"/>
<path class="d" stroke-dasharray="6 4.500" d="M343 854.300L389.500 876.300"/>
<path class="f" stroke-width="1.200" d="M386.500 869L390.400 876.700L383 876"/>

<!--/MISC-->
<use href="#hexnut"/>
<use href="#bigbolt"/>
<use href="#bigbolt" transform="translate(111.200,42.800)"/>
<use href="#bigbolt" transform="translate(54.900,183.600) rotate(-24 316.800 654)"/>
<!--LINKS-->
<!-- RH LINK 85160 -->
<g id="linkrh">
<path class="w" stroke-width="2.04" d="M210.800 470.800L249.400 485.800Q253 490 256.700 494.200L340 527.500L408.750 554.600L448.300 570.200L458.750 570.800Q466 572 469.200 575.400Q480 577 481.800 582.600Q481.800 589 475 592Q468 594.600 460 591L458.750 589.400L440 584.800L436.900 581.700L419.200 574.400Q410 567 402.500 562.900L340 536.900L260.800 505.600Q256 503.400 246.250 503.600L239 502.500L200.400 485.800Q198.600 482 199.600 478Q202 471.600 207.700 470.700Z"/>
<path class="f" stroke-width="2.8" d="M201 485.200L239 501.600L247 502.600"/>
<path d="M204 486L238 500.700" stroke="#fff" stroke-width="0.8" stroke-dasharray="1.200 2.400" fill="none"/>
<path class="f" stroke-width="1.2" d="M240 497.300L247.300 489M240 497.300Q247 498.600 252.500 494.600"/>
<circle cx="207.600" cy="477.800" r="4.600" class="f" stroke-width="2.16"/>
<path class="f" stroke-width="1.2" d="M206.400 474.600Q209.600 475.600 209 479.600M205 481.400Q203.500 478 205.400 475"/>
<!-- right end -->
<path class="f" stroke-width="1.2" d="M408.750 556.200L427.500 572.300L437.400 579.400"/>
<path class="f" stroke-width="1.1" d="M425.400 571.250L437.900 567.100"/>
<path class="w" stroke-width="1.8" d="M437.400 579.600L441.700 576.250L457.300 571.500L461 576L459.600 589L440.600 586Z"/>
<path class="f" stroke-width="1.1" d="M441.700 577.400L458.500 584.600"/>
<ellipse cx="469.900" cy="584.200" rx="11.600" ry="8.200" class="w" stroke-width="2.04" transform="rotate(8 469.900 584.200)"/>
<path class="f" stroke-width="1.2" d="M459.400 587.600Q469 594 480.600 586.800"/>
<circle cx="469.900" cy="581.200" r="5.400" class="w" stroke-width="1.92"/>
<path class="f" stroke-width="1.1" d="M466.800 580.600h2.400M471.400 579.600h2.400M469.800 582.800q1.800.8 3.200-.6"/>
</g>
<!-- LH LINK 85160 -->
<g id="linklh">
<path class="w" stroke-width="2.04" d="M423 601.700H434.400L449 610L455.200 610L472.900 613.100L486.500 617.300L489.600 620.400L497.900 625.600L550 644L633.300 669Q641 672 648 676.250L666.700 686.700L683.300 686.700Q692 687.600 695.800 690.800Q700.600 694 700 698.100Q699 704 693.750 706.500Q690 708.600 685.400 708.500L666.700 701.250L648 693Q640 688.600 635.400 684.600Q632 679.600 627 677.300L550 653.300L491.700 636L483.300 629.800L472.900 626.700L460.400 627.700L444.800 619.400L437.500 622.500L420.800 615.200L415 609Q417 603.500 423 601.700Z"/>
<path class="f" stroke-width="1.2" d="M444.800 619.400L444.800 614.600L455.200 610M444.800 614.600L436 609.400"/>
<circle cx="425" cy="606.250" r="1.800" class="f" stroke-width="1.1"/>
<path class="f" stroke-width="2.2" d="M416.500 610.600L421 614.800L437.400 621.800"/>
<ellipse cx="466.700" cy="618.600" rx="10.600" ry="6" class="w" stroke-width="1.92" transform="rotate(6 466.700 618.600)"/>
<ellipse cx="466.700" cy="617.400" rx="6.800" ry="3.800" class="w" stroke-width="1.68"/>
<path class="w" stroke-width="1.8" d="M463.600 616.800L464.200 606Q466.700 602.400 469.200 606L470 616.800Q466.800 618.600 463.600 616.800Z"/>
<path class="f" stroke-width="1.1" d="M473 626.600L483.300 623.500L489.600 620.400M460.400 627.700L455 622"/>
<!-- right end -->
<path class="w" stroke-width="1.3" d="M665.600 686.700L680.200 687L667.700 698.100Z"/>
<ellipse cx="690.600" cy="699" rx="9.400" ry="9" class="k0" transform="rotate(20 690.600 699)"/>
<circle cx="687.500" cy="695.200" r="3.300" fill="#fff"/>
<path d="M684 701.600Q689 706.600 695.600 700.600M686.400 699.600Q689.600 702.600 694 698" stroke="#fff" stroke-width="0.9" fill="none"/>
<path class="f" stroke-width="2.2" d="M667 700.800L685.400 707.800Q690 708 693.500 706"/>
</g>

<!--/LINKS-->
<g id="pivots">
<!--PIVOT1-->
<g id="piv1arm">
<!-- link arm (85161) hanging from plate -->
<path class="w" stroke-width="2.04" d="M206.900 410.500L202.600 446.900Q201.800 454 203.200 458.500Q206 464.400 211.500 465.600Q218 465.400 221.500 459.500Q223 455 223.300 448.400L227.400 409.500Z"/>
<path class="f" stroke-width="2.4" d="M226.600 411L222.600 449Q222 456 219.500 460"/>
<path d="M225.300 414L222 447" stroke="#fff" stroke-width="0.9" stroke-dasharray="2.200 2.600" fill="none"/>
<ellipse cx="215.100" cy="421.100" rx="2.600" ry="6.800" class="f" stroke-width="2.28" transform="rotate(4 215.100 421.100)"/>
<path class="k0" d="M212.200 431.400L216.600 431.200L218.800 446.500Q221.500 452 219 458.500Q215.500 464 209.500 462.500Q204 459.500 204 452Q205 446 210.800 443.500Z"/>
<path d="M214.300 434.500L213.300 443.500" stroke="#fff" stroke-width="1.0" fill="none"/>
<circle cx="208.700" cy="449.300" r="3.300" fill="#fff"/>
<path d="M205.600 456.600Q210 461 216.500 456.500M208.600 455Q212 457 215.800 453.400M211.600 452.600Q213.400 453.200 215 451.400" stroke="#fff" stroke-width="0.8" fill="none"/>
</g>
<g id="pivtop">
<!-- plate -->
<path class="w" stroke-width="2.04" d="M177.700 377.400L180.600 375.200L183 378.500L206 378.200L212 381.600L231.400 395.600L232.400 401.600L232.200 405.400L223.300 407.600L207 411L200.600 413.300L198.300 416.600L190 417Q186.400 414.500 183.600 408.500Z"/>
<path class="f" stroke-width="1.68" d="M183.400 405.600L189.400 412.400L231.600 399.800"/>
<path class="k0" d="M206.500 410.200L227.600 405.400L227.200 409.600L206.800 413Z"/>
<circle cx="191.900" cy="405.500" r="1.900" class="f" stroke-width="1.1"/>
<circle cx="224.600" cy="398.200" r="1.900" class="f" stroke-width="1.1"/>
<!-- base ring -->
<path class="w" stroke-width="1.92" d="M193.300 392.600Q195 397.600 202.100 398.200Q210 397.400 214.600 392.400Q217.200 389 214.600 386.200Q212.500 384 210 384Q204 390.500 193.300 392.600Z"/>
<path class="f" stroke-width="1.2" d="M196.400 393Q199 396.200 204 395.600Q210 394 213 389.200"/>
<!-- cylinder body -->
<path class="w" stroke-width="1.92" d="M186.800 378.800L194.300 390.900Q198 391.600 202.400 389.200Q207.400 386.600 207.600 383L195.600 366.200Q190 366.500 186 372Z"/>
<!-- hex nut on shaft (dark) -->
<path class="k0" d="M179.600 367L183.600 364.400L190 364.500L194.400 368.500L193.600 373.500L188.500 376.600L182.500 376.600L179.400 371.800Z"/>
<path d="M185.500 368.200L189.500 367.600L190.200 370.800L186.600 372.400Z" fill="#fff"/>
<path d="M182 369.500L184 374.500" stroke="#fff" stroke-width="0.8" fill="none"/>
<!-- stud -->
<path class="w" stroke-width="1.92" d="M172.600 359.400L180.800 369.600L189.600 364L179.800 354.600Q176 352.800 173.200 355.400Q171.600 357.400 172.600 359.400Z"/>
<path class="f" stroke-width="1.2" d="M173 359Q176 359.800 180 355"/>
<path class="f" stroke-width="1.700" d="M175 361.600L182 356.600M176.800 364L184 358.600M178.600 366.200L186 360.600M180.400 368.600L187.800 362.800"/>
</g>
<g id="piv2arm">
<path class="w" stroke-width="2.04" d="M697.600 630L692.100 657Q689 661 686.400 666Q685.400 672 688 677.500Q692 683.600 698 684.200Q703.500 683.600 706.900 678L718.400 626Z"/>
<path class="f" stroke-width="2.6" d="M717.200 628L707 676Q705 681 701 683"/>
<path d="M716 631L706.500 675" stroke="#fff" stroke-width="0.9" stroke-dasharray="2 2.400" fill="none"/>
<path class="f" stroke-width="5.0" stroke-linecap="round" d="M704.300 638.500L700.600 662"/>
<path d="M705 638L701.600 660M703.400 639L700 661" stroke="#fff" stroke-width="0.8" stroke-dasharray="1.200 1.800" fill="none"/>
<path class="k0" d="M686.200 664Q687 659 692 658.200L699 660L703.200 664L705.600 676Q702 684 695 683Q688 681 686.400 672Z"/>
<circle cx="692.300" cy="664.600" r="4.900" fill="#fff"/>
<path d="M688.600 672.600Q694 676 699.600 668M690 676.400Q696 679.600 702 671.600M692.600 680Q698 682.400 703.600 675.600" stroke="#fff" stroke-width="1.0" fill="none"/>
</g>

<!--/PIVOT1-->
<use href="#piv2arm"/>
<use href="#pivtop" transform="translate(489,221)"/>
</g>
<use href="#nut"/>
<use href="#nut" transform="translate(501.5,233.5)"/>
<use href="#sbolt"/>
<use href="#sbolt" transform="translate(488,203)"/>
<use href="#arm"/>
<use href="#arm" transform="translate(351.5,165.5)"/>
<use href="#cover"/>
<use href="#cover" transform="translate(344,156.5)"/>
<use href="#blade"/>
<use href="#blade" transform="translate(353,164) rotate(-0.67 37 57)"/>
</g>
</svg>
</body>
</html>
